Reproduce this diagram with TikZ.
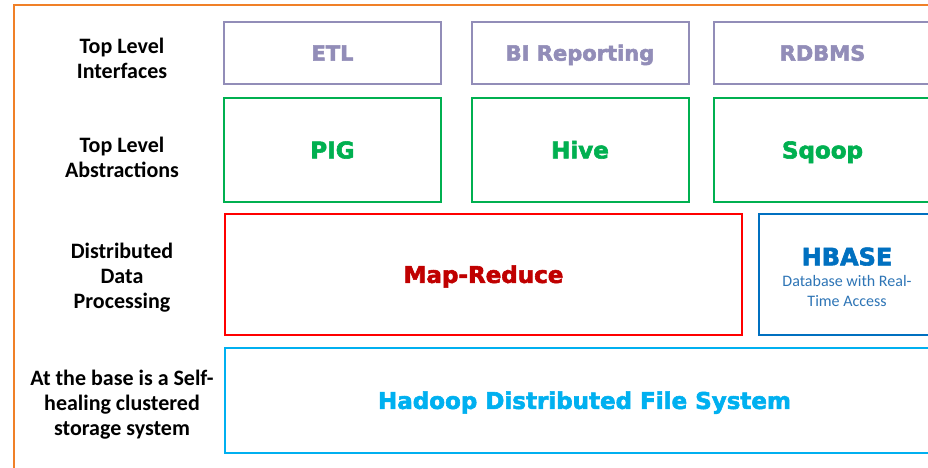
\documentclass[tikz,border=0pt]{standalone}
\usepackage{fontspec}
\setmainfont{Carlito}
\newfontfamily\heavyfont[FakeBold=2.5]{DejaVu Sans Bold}
\usepackage{xcolor}
\usepackage{tikz}
\definecolor{frameorange}{RGB}{240,128,40}
\definecolor{ifacegrey}{RGB}{146,141,184}
\definecolor{absgreen}{RGB}{0,176,80}
\definecolor{mrred}{RGB}{255,0,0}
\definecolor{mrtext}{RGB}{192,0,0}
\definecolor{hbblue}{RGB}{0,112,192}
\definecolor{hbsub}{RGB}{46,117,182}
\definecolor{hdfsblue}{RGB}{0,176,240}

\begin{document}
\begin{tikzpicture}[x=1pt,y=-1pt,
layer/.style={align=center,font=\bfseries\fontsize{22}{25}\selectfont},
box/.style={draw,line width=2pt,inner sep=0pt,align=center},
flat/.style={text height=#1,text depth=0pt},
iface/.style={box,flat=15.3pt,draw=ifacegrey,text=ifacegrey,minimum width=217pt,minimum height=62pt,
  font=\heavyfont\fontsize{21}{24}\selectfont},
abstr/.style={box,flat=16.8pt,draw=absgreen,text=absgreen,minimum width=217pt,minimum height=104pt,
  font=\heavyfont\fontsize{23}{26}\selectfont}]
\useasboundingbox (0,0) rectangle (928,468);
\clip (0,0) rectangle (928,468);
\fill[white] (0,0) rectangle (928,468);
\draw[frameorange,line width=2pt] (14,5) rectangle (960,500);

% layer names
\node (L1) [layer] at (122,58.5) {Top Level\\Interfaces};
\node (L2) [layer] at (122,157.5) {Top Level\\Abstractions};
\node (L3) [layer] at (122,278) {Distributed\\Data\\Processing};
\node (L4) [layer] at (122,405) {At the base is a Self-\\healing clustered\\storage system};

% interfaces
\node (ETL) [iface] at (332.5,53) {ETL};
\node (BI) [iface] at (580,53) {BI Reporting};
\node (RDBMS) [iface] at (822.5,53) {RDBMS};

% abstractions
\node (PIG) [abstr] at (332.5,150) {PIG};
\node (Hive) [abstr] at (580,150) {Hive};
\node (Sqoop) [abstr] at (822.5,150) {Sqoop};

% processing
\node (MR) [box,flat=16.8pt,draw=mrred,text=mrtext,minimum width=517pt,minimum height=121pt,
  font=\heavyfont\fontsize{23}{26}\selectfont] at (483.5,274.5) {Map-Reduce};
\node (HBASE) [box,draw=hbblue,minimum width=176pt,minimum height=121pt] at (847,274.5) {};
\node (HBtext) [align=center,text=hbsub,font=\fontsize{16}{20}\selectfont] at (847,277)
  {\textcolor{hbblue}{\heavyfont\fontsize{24}{26}\selectfont HBASE}\\[1pt]
  Database with Real-\\Time Access};

% storage
\node (HDFS) [box,flat=16.8pt,draw=hdfsblue,text=hdfsblue,minimum width=719pt,minimum height=105pt,
  font=\heavyfont\fontsize{23}{26}\selectfont] at (584.5,400.5) {Hadoop Distributed File System};
\end{tikzpicture}
\end{document}
